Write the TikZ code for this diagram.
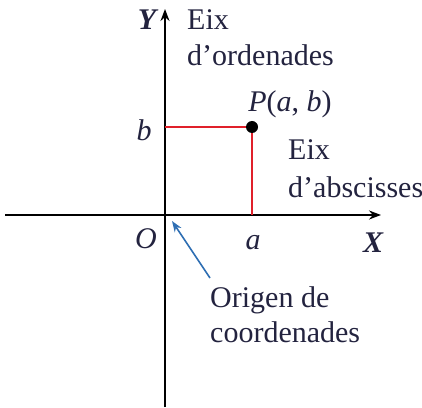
\documentclass[tikz,border=0pt]{standalone}
\usepackage{fontspec}
\setmainfont{Liberation Serif}
\usetikzlibrary{arrows.meta}
\definecolor{txt}{HTML}{23233F}
\definecolor{ptr}{HTML}{2F6FB3}
\definecolor{redl}{HTML}{E0202A}
\begin{document}
\begin{tikzpicture}[x=1pt,y=1pt,
  lbl/.style={text=txt,font=\fontsize{30}{36}\selectfont,inner sep=0pt},
  blk/.style={lbl,align=left,anchor=north west},
  axis/.style={line width=1.8pt,-{Stealth[length=12pt,width=9pt]}}]
\useasboundingbox (0,0) rectangle (422,407);
\coordinate (O) at (165,192);
\coordinate (xs) at (5,192);
\coordinate (xe) at (381,192);
\coordinate (ys) at (165,0);
\coordinate (ye) at (165,398);
\coordinate (P) at (252,280);
\coordinate (Pb) at (165,280);
\coordinate (Pa) at (252,192);
\draw[axis] (xs) -- (xe);
\draw[axis] (ys) -- (ye);
\draw[redl,line width=1.5pt] (Pb) -- (P) -- (Pa);
\fill (P) circle (6pt);
\node[lbl,font=\fontsize{30}{36}\selectfont\bfseries\itshape] (Y) at (147,387) {Y};
\node[lbl,font=\fontsize{30}{36}\selectfont\bfseries\itshape] (X) at (373,164) {X};
\node[blk] (eo) at (187,397.5) {Eix\\d’ordenades};
\node[lbl] (b) at (144,277) {\textit{b}};
\node[lbl] (Pl) at (290,303) {\textit{P}(\textit{a}, \textit{b})};
\node[blk,font=\fontsize{30}{38}\selectfont] (ea) at (288,267.5) {Eix\\d’abscisses};
\node[lbl] (Ol) at (146,168) {\textit{O}};
\node[lbl] (al) at (253,164) {\textit{a}};
\node[blk,font=\fontsize{30}{35}\selectfont] (orig) at (210,120.5) {Origen de\\coordenades};
\coordinate (tail) at (210,129);
\coordinate (tip) at (172,186);
\draw[ptr,line width=1.6pt,-{Stealth[length=11pt,width=8pt]}] (tail) -- (tip);
\end{tikzpicture}
\end{document}
